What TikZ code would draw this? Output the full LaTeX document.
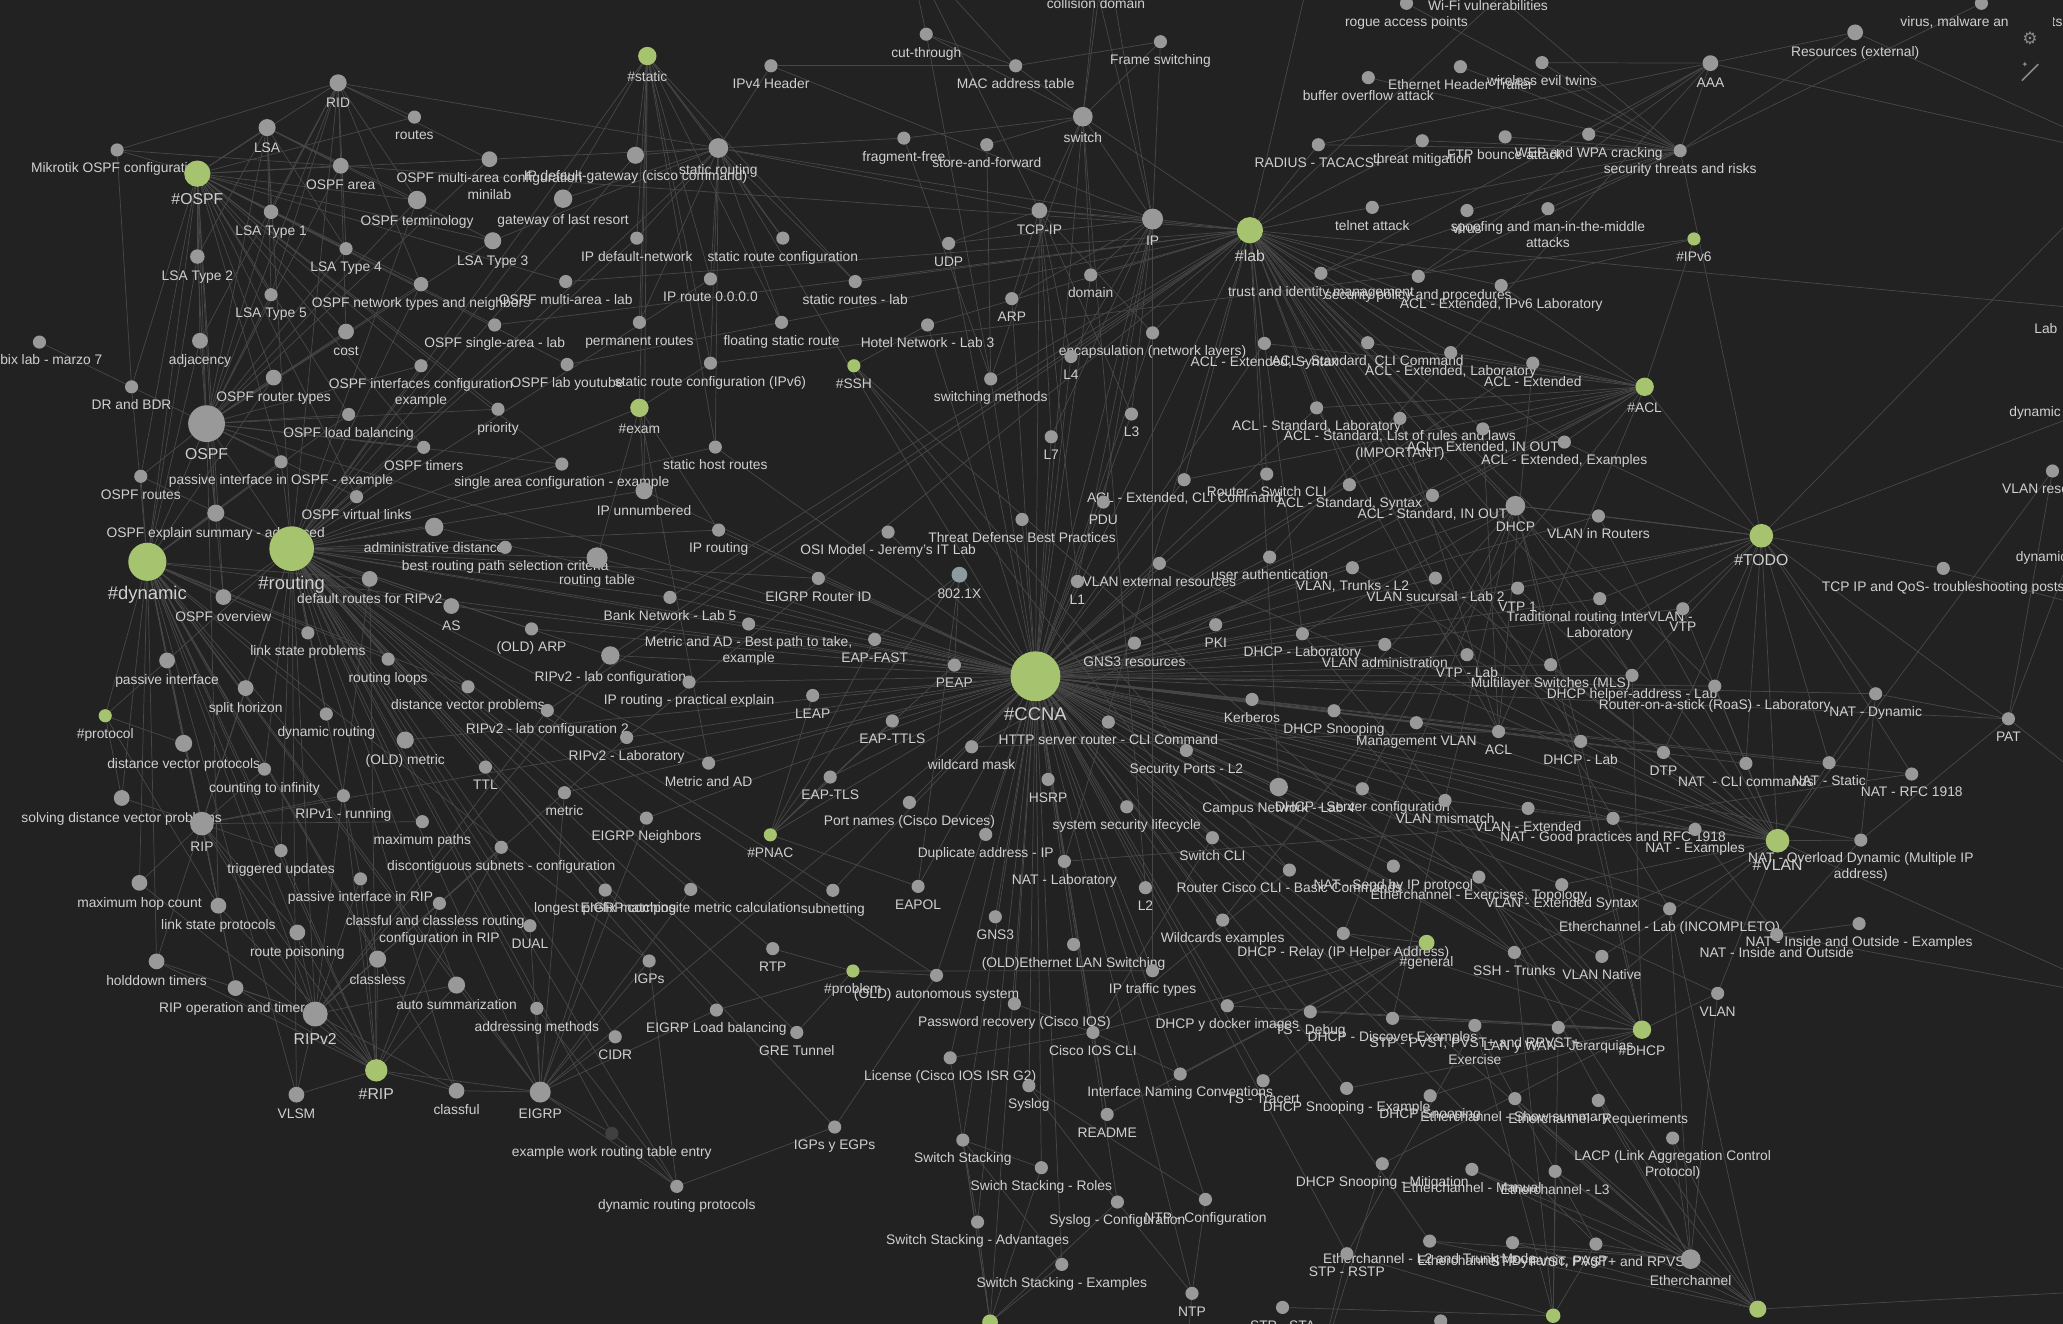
\documentclass[tikz,border=0pt]{standalone}
\usepackage{fontspec}
\setmainfont{Liberation Sans}
\newfontfamily\symfont{DejaVu Sans}
\usetikzlibrary{backgrounds}

\definecolor{bgc}{HTML}{222222}
\definecolor{ngray}{HTML}{999999}
\definecolor{ngreen}{HTML}{A6C36F}
\definecolor{nblue}{HTML}{8C9BA0}
\definecolor{ndark}{HTML}{404040}
\definecolor{tgray}{HTML}{D0D0D0}
\definecolor{egray}{HTML}{474747}
\definecolor{icong}{HTML}{8A8A8A}

\newcommand{\lbfont}{\fontsize{10.5}{12.5}\selectfont}
\newcommand{\midfont}{\fontsize{12}{14}\selectfont}
\newcommand{\bigfont}{\fontsize{14}{16}\selectfont}

\tikzset{
  nd/.style={circle,fill=ngray,inner sep=0pt,minimum size=#1},
  nd/.default=10pt,
  tg/.style={nd=#1,fill=ngreen},
  tg/.default=10pt,
  lbl/.style={text=tgray,font=\lbfont,align=center,inner sep=0pt,text height=8pt,text depth=2.5pt},
  lb/.style={label={[lbl]below:#1}},
  lbm/.style={label={[lbl,text height=,text depth=]below:#1}},
  mlb/.style={label={[lbl,font=\midfont,text height=9pt,text depth=2.5pt]below:#1}},
  blb/.style={label={[lbl,font=\bigfont,text height=10pt,text depth=3pt]below:#1}},
  link/.style={draw=egray,line width=0.55pt},
}

\begin{document}
\begin{tikzpicture}[x=1pt,y=-1pt,label distance=4pt]
  \useasboundingbox (0,0) rectangle (1568,1006);
  \begin{scope}[on background layer]
    \fill[bgc] (0,0) rectangle (1568,1006);
  \end{scope}

  % OSPF side
  \node[nd=13pt,lb=RID] (rid) at (257,63) {};
  \node[nd=13pt,lb=LSA] (lsa) at (203,97) {};
  \node[nd,lb=routes] (routes) at (315,89) {};
  \node[nd,lb=Mikrotik OSPF configuration] (mikro) at (89,114) {};
  \node[tg=20pt,mlb=\#OSPF] (tospf) at (150,132) {};
  \node[nd=12pt,lb=OSPF area] (ospfarea) at (259,126) {};
  \node[nd=12pt,lbm={OSPF multi-area configuration\\minilab}] (ospfmulti) at (372,121) {};
  \node[nd=11pt,lb=LSA Type 1] (lsa1) at (206,161) {};
  \node[nd=14pt,lb=OSPF terminology] (ospfterm) at (317,152) {};
  \node[nd=11pt,lb=LSA Type 2] (lsa2) at (150,195) {};
  \node[nd,lb=LSA Type 4] (lsa4) at (263,189) {};
  \node[nd=13pt,lb=LSA Type 3] (lsa3) at (374.5,183) {};
  \node[nd,lb=LSA Type 5] (lsa5) at (206,224) {};
  \node[nd=11pt,lb=OSPF network types and neighbors] (ospfnet) at (320,216) {};
  \node[nd=12pt,lb=cost] (cost) at (263,252) {};
  \node[nd=12pt,lb=adjacency] (adj) at (152,259) {};
  \node[nd,label={[lbl,xshift=9pt]below:bix lab - marzo 7}] (bix) at (30,260) {};
  \node[nd,lb=DR and BDR] (drbdr) at (100,294) {};
  \node[nd=12pt,lb=OSPF router types] (ortypes) at (208,287) {};
  \node[nd,lbm={OSPF interfaces configuration\\example}] (ospfintf) at (320,278) {};
  \node[nd=28pt,mlb=OSPF] (ospf) at (157,322) {};
  \node[nd,lb=OSPF load balancing] (ospflb) at (265,315) {};
  \node[nd,lb=priority] (priority) at (378.5,311) {};
  \node[nd,lb=OSPF lab youtube] (ospfyt) at (431,277) {};
  \node[nd,lb=OSPF single-area - lab] (ospfsingle) at (376,247) {};
  \node[nd,lb=OSPF multi-area - lab] (ospfmlab) at (430,214) {};
  \node[nd,lb=OSPF routes] (ospfroutes) at (107,362) {};
  \node[nd,lb=passive interface in OSPF - example] (passospf) at (213.6,351) {};
  \node[nd,lb=OSPF timers] (ospftimers) at (322,340) {};
  \node[nd,lb=single area configuration - example] (singlearea) at (427,352.7) {};
  \node[nd=13pt,lb=OSPF explain summary - advanced] (ospfsum) at (164,390) {};
  \node[nd,lb=OSPF virtual links] (ospfvl) at (271,377.5) {};

  % routing side
  \node[tg=29pt,blb=\#dynamic] (dynamic) at (112,427) {};
  \node[tg=34pt,blb=\#routing] (routing) at (221.7,417) {};
  \node[nd=14pt,lb=administrative distance] (admdist) at (330,400.5) {};
  \node[nd,lb=best routing path selection criteria] (bestpath) at (384,416) {};
  \node[nd=12pt,lb=OSPF overview] (ospfover) at (169.8,453.8) {};
  \node[nd=12pt,lb=default routes for RIPv2] (defrip) at (281,440) {};
  \node[nd=12pt,lb=AS] (as) at (343,460.6) {};
  \node[nd,lb=link state problems] (lsprob) at (234,481) {};
  \node[nd=12pt,lb=passive interface] (passive) at (127,502) {};
  \node[nd,lb=routing loops] (loops) at (295,501) {};
  \node[nd,lb=(OLD) ARP] (oldarp) at (404,478) {};
  \node[nd=12pt,lb=split horizon] (split) at (186.7,523) {};
  \node[nd,lb=distance vector problems] (dvprob) at (355.7,522) {};
  \node[tg,lb=\#protocol] (protocol) at (80,544) {};
  \node[nd,lb=dynamic routing] (dynrouting) at (248,542.7) {};
  \node[nd,lb=RIPv2 - lab configuration 2] (ripv2lab2) at (416,540) {};
  \node[nd=13pt,lb=(OLD) metric] (oldmetric) at (308,562.5) {};
  \node[nd=13pt,lb=distance vector protocols] (dvprot) at (139.6,565) {};
  \node[nd,lb=counting to infinity] (cinf) at (201,584.6) {};
  \node[nd,lb=TTL] (ttl) at (369,583) {};
  \node[nd=12pt,lb=solving distance vector problems] (solvdv) at (92.5,606.5) {};
  \node[nd,lb=RIPv1 - running] (ripv1) at (261,604.8) {};
  \node[nd=18pt,lb=RIP] (rip) at (153.5,626) {};
  \node[nd,lb=maximum paths] (maxpaths) at (321,624.5) {};
  \node[nd,lb=metric] (metric) at (429,602.5) {};
  \node[nd,lb=triggered updates] (trig) at (213.6,646.5) {};
  \node[nd,lb=discontiguous subnets - configuration] (discont) at (381,644) {};
  \node[nd=12pt,lb=maximum hop count] (maxhop) at (106,671) {};
  \node[nd=12pt,lb=link state protocols] (lsprot) at (166,688.4) {};
  \node[nd,lb=passive interface in RIP] (passrip) at (274,668) {};
  \node[nd,lbm={classful and classless routing -\\configuration in RIP}] (classfulrip) at (334,686.6) {};
  \node[nd=12pt,lb=route poisoning] (poison) at (226,708.7) {};
  \node[nd=12pt,lb=holddown timers] (holddown) at (119,730.7) {};
  \node[nd=13pt,lb=classless] (classless) at (287,729) {};
  \node[nd=12pt,lb=RIP operation and timers] (ripop) at (179,751) {};
  \node[nd=13pt,lb=auto summarization] (autosum) at (347,748.7) {};
  \node[nd=19pt,mlb=RIPv2] (ripv2) at (239.6,770.7) {};
  \node[nd,lb=DUAL] (dual) at (402.8,703.6) {};
  \node[nd,lb=longest prefix matching] (longest) at (460,676.5) {};
  \node[nd,lb=EIGRP composite metric calculation] (eigrpcomp) at (525,676) {};
  \node[nd,lb=IGPs] (igps) at (493.4,730.4) {};
  \node[nd,lb=addressing methods] (addr) at (408,766.4) {};
  \node[nd,lb=CIDR] (cidr) at (467.6,788) {};
  \node[tg=17pt,mlb=\#RIP] (trip) at (286,813.5) {};
  \node[nd=12pt,lb=VLSM] (vlsm) at (225.3,832) {};
  \node[nd=12pt,lb=classful] (classful) at (347,829) {};
  \node[nd=16pt,lb=EIGRP] (eigrp) at (410.6,830) {};
  \node[nd,fill=ndark,lb=example work routing table entry] (example) at (465,861.4) {};
  \node[nd,lb=dynamic routing protocols] (dynprot) at (514.4,901.7) {};
  \node[nd,lb=EIGRP Load balancing] (eigrplb) at (544.5,767.7) {};
  \node[nd,lb=IGPs y EGPs] (igpegp) at (634.4,856.6) {};
  \node[nd,lb=GRE Tunnel] (gre) at (605.6,784.7) {};
  \node[nd,lb=RTP] (rtp) at (587.3,721) {};
  \node[tg,lb=\#problem] (problem) at (648.3,738) {};
  \node[nd,lb=subnetting] (subnet) at (633,676.7) {};
  \node[nd,lb=EAPOL] (eapol) at (697.8,673.7) {};
  \node[nd,lb=(OLD) autonomous system] (oldas) at (711.8,741.3) {};

  % static and middle
  \node[tg=14pt,lb=\#static] (tstatic) at (492,42.6) {};
  \node[nd,lb=IPv4 Header] (ipv4h) at (586,50) {};
  \node[nd,lb=cut-through] (cut) at (704,26) {};
  \node[nd,lb=MAC address table] (mactable) at (772,50) {};
  \node[nd=15pt,lb=static routing] (statrouting) at (546,112.5) {};
  \node[nd=13pt,lb=IP default-gateway (cisco command)] (defgw) at (483,118) {};
  \node[nd=14pt,lb=gateway of last resort] (lastresort) at (428,151) {};
  \node[nd,lb=fragment-free] (fragfree) at (687,105) {};
  \node[nd,lb=store-and-forward] (storefwd) at (750,110) {};
  \node[nd,lb=IP default-network] (defnet) at (484,181) {};
  \node[nd,lb=static route configuration] (statconf) at (595,181) {};
  \node[nd,lb=UDP] (udp) at (721,185) {};
  \node[nd,lb=IP route 0.0.0.0] (iproute0) at (540,212) {};
  \node[nd,lb=static routes - lab] (statlab) at (650,214) {};
  \node[nd,lb=ARP] (arp) at (769,227) {};
  \node[nd,lb=permanent routes] (permanent) at (486,245) {};
  \node[nd,lb=floating static route] (floating) at (594,245) {};
  \node[nd,lb=Hotel Network - Lab 3] (hotel) at (705,247) {};
  \node[nd,lb=static route configuration (IPv6)] (statv6) at (540,276) {};
  \node[tg,lb=\#SSH] (ssh) at (649,278) {};
  \node[nd,lb=switching methods] (swmethods) at (753,288) {};
  \node[tg=14pt,lb=\#exam] (exam) at (486,310) {};
  \node[nd,lb=static host routes] (hostroutes) at (543.7,339.8) {};
  \node[nd=13pt,lb=IP unnumbered] (ipunnum) at (489.5,373) {};
  \node[nd,lb=IP routing] (iprouting) at (546.2,402.9) {};
  \node[nd,lb=OSI Model - Jeremy's IT Lab] (osi) at (675,404.4) {};
  \node[nd,lb=Threat Defense Best Practices] (threat) at (776.8,394.8) {};
  \node[nd=16pt,lb=routing table] (rtable) at (453.8,424) {};
  \node[nd,lb=EIGRP Router ID] (eigrprid) at (622,439.6) {};
  \node[nd=12pt,fill=nblue,lb=802.1X] (dot1x) at (729.2,436.8) {};
  \node[nd,lb=Bank Network - Lab 5] (bank) at (509.2,454) {};
  \node[nd,lbm={Metric and AD - Best path to take,\\example}] (metricadb) at (569,474.3) {};
  \node[nd,lb=EAP-FAST] (eapfast) at (664.8,486) {};
  \node[nd=14pt,lb=RIPv2 - lab configuration] (ripv2lab) at (463.9,498.2) {};
  \node[nd,lb=PEAP] (peap) at (725.4,505.5) {};
  \node[tg=38pt,blb=\#CCNA] (ccna) at (787,514) {};
  \node[nd,lb=IP routing - practical explain] (ippract) at (523.7,518.4) {};
  \node[nd,lb=LEAP] (leap) at (617.7,528.6) {};
  \node[nd,lb=RIPv2 - Laboratory] (ripv2labo) at (476.3,560.5) {};
  \node[nd,lb=EAP-TTLS] (eapttls) at (678.2,548) {};
  \node[nd,lb=wildcard mask] (wildcard) at (738.5,567.6) {};
  \node[nd,lb=Metric and AD] (metricad) at (538.6,580) {};
  \node[nd,lb=EAP-TLS] (eaptls) at (631,590.6) {};
  \node[nd,lb=Port names (Cisco Devices)] (portnames) at (691.2,609.9) {};
  \node[nd,lb=EIGRP Neighbors] (eigrpnb) at (491.3,621.8) {};
  \node[tg,lb=\#PNAC] (pnac) at (585.5,634.5) {};
  \node[nd,lb=Duplicate address - IP] (dupaddr) at (749.2,634.2) {};

  % top right
  \node[nd,lb=collision domain] (colldom) at (833,-11) {};
  \node[nd,lb=Frame switching] (frame) at (882,31.7) {};
  \node[nd=15pt,lb=switch] (switch) at (823,88.7) {};
  \node[nd,lb=rogue access points] (rogue) at (1069,2.5) {};
  \node[nd,lb=Wi-Fi vulnerabilities] (wifi) at (1131,-9.5) {};
  \node[nd,lb=buffer overflow attack] (buffer) at (1040,59) {};
  \node[nd,lb=Ethernet Header-Trailer] (ethhdr) at (1110,50.7) {};
  \node[nd,lb=wireless evil twins] (evil) at (1172,47.6) {};
  \node[nd=12pt,lb=AAA] (aaa) at (1300,48) {};
  \node[nd=12pt,lb=Resources (external)] (resources) at (1410,24.6) {};
  \node[nd,lb={virus, malware and threats}] (virusmal) at (1506,2.5) {};
  \node[nd,lb=RADIUS - TACACS+] (radius) at (1002,110) {};
  \node[nd,lb=threat mitigation] (threatmit) at (1081,107) {};
  \node[nd,lb=FTP bounce attack] (ftp) at (1144,104) {};
  \node[nd,lb=WEP and WPA cracking] (wep) at (1207.5,102) {};
  \node[nd,lb=security threats and risks] (secthreats) at (1277,114.5) {};
  \node[nd=16pt,lb=IP] (ip) at (876,166.5) {};
  \node[nd=12pt,lb=TCP-IP] (tcpip) at (790,160) {};
  \node[tg=20pt,mlb=\#lab] (lab) at (950,175) {};
  \node[nd,lb=telnet attack] (telnet) at (1043,157.6) {};
  \node[nd,lb=virus] (virus) at (1115,160) {};
  \node[nd,lbm={spoofing and man-in-the-middle\\attacks}] (spoof) at (1176.5,158.6) {};
  \node[tg,lb=\#IPv6] (ipv6) at (1287.5,181.6) {};
  \node[nd,lb=domain] (domain) at (829,209) {};
  \node[nd,lb=trust and identity management] (trust) at (1004,207.7) {};
  \node[nd,lb=security policy and procedures] (secpol) at (1078,210) {};
  \node[nd,lb={ACL - Extended, IPv6 Laboratory}] (aclv6) at (1141,217) {};
  \node[nd,lb=encapsulation (network layers)] (encap) at (876,253) {};
  \node[nd,lb=L4] (l4) at (814,271) {};
  \node[nd,lb={ACL - Extended, Syntax}] (aclextsyn) at (961,261) {};
  \node[nd,lb={ACL - Standard, CLI Command}] (aclstdcli) at (1039.5,260.5) {};
  \node[nd,lb={ACL - Extended, Laboratory}] (aclextlab) at (1102.6,268) {};
  \node[nd,lb=ACL - Extended] (aclext) at (1165,276) {};
  \node[tg=14pt,lb=\#ACL] (tacl) at (1250,294) {};
  \node[nd,lb=L3] (l3) at (860,314.7) {};
  \node[nd,lb=L7] (l7) at (799,332) {};
  \node[nd,lb={ACL - Standard, Laboratory}] (aclstdlab) at (1000.7,310) {};
  \node[nd,lbm={ACL - Standard, List of rules and laws\\(IMPORTANT)}] (aclstdlist) at (1064,318) {};
  \node[nd,lb={ACL - Extended, IN OUT}] (aclextio) at (1127,326) {};
  \node[nd,lb={ACL - Extended, Examples}] (aclextex) at (1189,336) {};
  \node[nd,lb={ACL - Extended, CLI Command}] (aclextcli) at (900,364.6) {};
  \node[nd,lb=Router - Switch CLI] (rsw) at (962.8,360.3) {};
  \node[nd,lb={ACL - Standard,  Syntax}] (aclstdsyn) at (1025.6,368.4) {};
  \node[nd,lb={ACL - Standard, IN OUT}] (aclstdio) at (1088.7,376.5) {};
  \node[nd=15pt,lb=DHCP] (dhcp) at (1151.8,384.4) {};
  \node[nd,lb=PDU] (pdu) at (838.6,381.6) {};
  \node[nd,lb=VLAN in Routers] (vlanrt) at (1214.9,392.2) {};
  \node[tg=18pt,mlb=\#TODO] (todo) at (1338.7,407.2) {};
  \node[nd,lb=TCP IP and QoS- troubleshooting posts] (tcpqos) at (1477,432) {};
  \node[nd,lb=VLAN resources] (vlanres) at (1560,358) {};

  % centre right
  \node[nd,lb=VLAN external resources] (vlanextres) at (881.2,428.2) {};
  \node[nd,lb=user authentication] (userauth) at (965,423.4) {};
  \node[nd,lb=L1] (l1) at (818.9,441.9) {};
  \node[nd,lb={VLAN, Trunks - L2}] (vlantrunk) at (1027.9,431.5) {};
  \node[nd,lb=VLAN sucursal  - Lab 2] (vlansuc) at (1091,439.4) {};
  \node[nd,lb=VTP 1] (vtp1) at (1153.5,447) {};
  \node[nd,lbm={Traditional routing InterVLAN -\\Laboratory}] (tradinter) at (1215.9,455) {};
  \node[nd,lb=VTP] (vtp) at (1279,462.7) {};
  \node[nd,lb=PKI] (pki) at (924,474.8) {};
  \node[nd,lb=GNS3 resources] (gns3res) at (862.2,488.8) {};
  \node[nd,lb=DHCP - Laboratory] (dhcplabo) at (989.9,481.7) {};
  \node[nd,lb=VLAN administration] (vlanadm) at (1052.5,489.8) {};
  \node[nd,lb=VTP - Lab] (vtplab) at (1115,497.6) {};
  \node[nd,lb=Multilayer Switches (MLS)] (mls) at (1178.6,505.2) {};
  \node[nd,lb=DHCP helper-address - Lab] (helper) at (1240.4,513.3) {};
  \node[nd,lb=Router-on-a-stick (RoaS) - Laboratory] (roas) at (1303.3,521.5) {};
  \node[nd,lb=NAT - Dynamic] (natdyn) at (1425.6,527.3) {};
  \node[nd,lb=PAT] (pat) at (1526.5,546.3) {};
  \node[nd,lb=Kerberos] (kerberos) at (951.6,531.6) {};
  \node[nd,lb=DHCP Snooping] (dhcpsnoop) at (1013.9,540.2) {};
  \node[nd,lb=Management VLAN] (mgmtvlan) at (1076.5,549.3) {};
  \node[nd,lb=ACL] (acl) at (1139,556) {};
  \node[nd,lb=HTTP server router  - CLI Command] (httpsrv) at (842.4,548.8) {};
  \node[nd,lb=DHCP - Lab] (dhcplab) at (1201.4,563.5) {};
  \node[nd,lb=DTP] (dtp) at (1264.3,571.9) {};
  \node[nd,lb=NAT ~- CLI commands] (natcli) at (1327,580.2) {};
  \node[nd,lb=NAT - Static] (natstatic) at (1390.2,579.7) {};
  \node[nd,lb=NAT - RFC 1918] (natrfc) at (1453,588.3) {};
  \node[nd,lb=Security Ports - L2] (secports) at (901.7,570.4) {};
  \node[nd,lb=HSRP] (hsrp) at (796.6,592.4) {};
  \node[nd=14pt,lb=Campus Network - Lab 4] (campus) at (971.9,598.2) {};
  \node[nd,lb=DHCP - Server configuration] (dhcpsrv) at (1035.5,599.5) {};
  \node[nd,lb=VLAN mismatch] (vlanmis) at (1098.3,608.4) {};
  \node[nd,lb=VLAN - Extended] (vlanextd) at (1161.4,614.4) {};
  \node[nd,lb=NAT - Good practices and RFC 1918] (natgood) at (1226,622) {};
  \node[nd,lb=NAT - Examples] (natex) at (1288.3,630.4) {};
  \node[tg=18pt,mlb=\#VLAN] (tvlan) at (1351,639) {};
  \node[nd,lbm={NAT - Overload Dynamic (Multiple IP\\address)}] (natover) at (1414.3,638.5) {};
  \node[nd,lb=system security lifecycle] (syssec) at (856.4,613.2) {};
  \node[nd,lb=Switch CLI] (switchcli) at (921.5,636.7) {};
  \node[nd,lb=NAT - Laboratory] (natlab) at (809,654.7) {};
  \node[nd,lb=Router Cisco CLI - Basic Commands] (rcli) at (980,661.3) {};
  \node[nd,lb=NAT - Send by IP protocol] (natsend) at (1059,658.3) {};
  \node[nd,lb={Etherchannel - Exercises, Topology}] (ethex) at (1124,666.6) {};
  \node[nd,lb=VLAN - Extended Syntax] (vlanextsyn) at (1187,672.4) {};
  \node[nd,lb=Etherchannel - Lab (INCOMPLETO)] (ethlab) at (1269,690.7) {};
  \node[nd,lb=NAT - Inside and Outside] (natio) at (1350.4,710.4) {};
  \node[nd,lb=NAT - Inside and Outside - Examples] (natioex) at (1413,702) {};

  % bottom
  \node[nd,lb=L2] (l2) at (870.6,674.7) {};
  \node[nd,lb=GNS3] (gns3) at (756.5,696.8) {};
  \node[nd,lb=Wildcards examples] (wildex) at (929.3,699.3) {};
  \node[nd,lb=(OLD)Ethernet LAN Switching] (oldeth) at (816,717.8) {};
  \node[nd,lb=IP traffic types] (iptraffic) at (876,737.8) {};
  \node[nd,lb=DHCP - Relay (IP Helper Address)] (relay) at (1021,709.4) {};
  \node[tg=12pt,lb=\#general] (general) at (1084.3,716.5) {};
  \node[nd,lb=SSH - Trunks] (sshtrunk) at (1151,723.9) {};
  \node[nd,lb=VLAN Native] (vlannative) at (1217.5,726.9) {};
  \node[nd,lb=VLAN] (vlan) at (1305.5,755) {};
  \node[nd,lb=Password recovery (Cisco IOS)] (pwrec) at (771,762.9) {};
  \node[nd,lb=DHCP y docker images] (docker) at (932.8,764.4) {};
  \node[nd,lb=TS - Debug] (tsdebug) at (995.9,769) {};
  \node[nd,lb=DHCP - Discover Examples] (discover) at (1058.4,774) {};
  \node[nd,lbm={STP - PVST, PVST+ and RPVST+\\Exercise}] (stpex) at (1121,779.4) {};
  \node[nd,lb=LAN y WAN - Jerarquias] (lanwan) at (1184.4,780.9) {};
  \node[tg=14pt,lb=\#DHCP] (tdhcp) at (1248,782.6) {};
  \node[nd,lb=Cisco IOS CLI] (ciscocli) at (830.7,784.7) {};
  \node[nd,lb=License (Cisco IOS ISR G2)] (license) at (722.2,804) {};
  \node[nd,lb=Syslog] (syslog) at (782,825.2) {};
  \node[nd,lb=Interface Naming Conventions] (ifnames) at (897,816.3) {};
  \node[nd,lb=TS - Tracert] (tracert) at (960,821.4) {};
  \node[nd,lb=DHCP Snooping - Example] (snoopex) at (1023.5,827.2) {};
  \node[nd,lb=DHCP Snooping] (snooptwo) at (1087,832.8) {};
  \node[nd,lb=Etherchannel - Show summary] (ethshow) at (1151.4,835) {};
  \node[nd,lb=Etherchannel - Requeriments] (ethreq) at (1214.8,836.4) {};
  \node[nd,lb=README] (readme) at (841.5,847) {};
  \node[nd,lbm={LACP (Link Aggregation Control\\Protocol)}] (lacp) at (1271.3,865) {};
  \node[nd,lb=Switch Stacking] (stack) at (731.8,866.5) {};
  \node[nd,lb=Swich Stacking - Roles] (stackroles) at (791.5,887.5) {};
  \node[nd,lb=DHCP Snooping - Mitigation] (snoopmit) at (1050.6,884.5) {};
  \node[nd,lb=Etherchannel - Manual] (ethman) at (1118.7,888.8) {};
  \node[nd,lb=Etherchannel - L3] (ethl3) at (1182,890.3) {};
  \node[nd,lb=Syslog - Configuration] (syslogconf) at (849.3,913.6) {};
  \node[nd,lb=NTP - Configuration] (ntpconf) at (916.2,911.6) {};
  \node[nd,lb=Switch Stacking - Advantages] (stackadv) at (743,928.8) {};
  \node[nd,lb=Etherchannel - L2 and Trunk Mode] (ethl2) at (1086.6,943.3) {};
  \node[nd,lb={Etherchannel - Dynamic, PAgP}] (ethdyn) at (1149.6,944.5) {};
  \node[nd,lb={STP - PVST, PVST+ and RPVST+}] (stppvst) at (1213,945.5) {};
  \node[nd,lb=STP - RSTP] (rstp) at (1023.7,952.9) {};
  \node[nd=15pt,lb=Etherchannel] (eth) at (1285,957) {};
  \node[nd,lb=Switch Stacking - Examples] (stackex) at (807,961) {};
  \node[nd,lb=NTP] (ntp) at (906,983) {};
  \node[nd,lb=STP - STA] (stpsta) at (974.8,993.7) {};
  \node[nd] (bnode) at (1095,1004) {};
  \node[tg=12pt] (g1) at (752.5,1005) {};
  \node[tg=11pt] (g2) at (1180.5,1000) {};
  \node[tg=13pt] (g3) at (1336,995) {};

  % texts of nodes past the right edge
  \node[lbl,anchor=west] (labtxt) at (1546,251) {Lab};
  \node[lbl,anchor=west] (dyntxt) at (1527,314) {dynamic};
  \node[lbl,anchor=west] (dyntxtb) at (1532,424) {dynamic};

  % points past the edges
  \coordinate (o1) at (690,-40);
  \coordinate (o2) at (840,-40);
  \coordinate (o3) at (1000,-40);
  \coordinate (o4) at (1180,-40);
  \coordinate (o5) at (1620,120);
  \coordinate (o6) at (1620,300);
  \coordinate (o7) at (1620,470);
  \coordinate (o8) at (1620,620);
  \coordinate (o9) at (1620,760);
  \coordinate (o10) at (760,1050);
  \coordinate (o11) at (900,1050);
  \coordinate (o12) at (1000,1050);
  \coordinate (o13) at (1160,1050);
  \coordinate (o15) at (1620,980);
  \coordinate (o16) at (1600,236);

  \begin{scope}[on background layer]
    \foreach \t in {eapfast,peap,leap,eapttls,eaptls,wildcard,portnames,dupaddr,hsrp,httpsrv,gns3res,pki,kerberos,secports,syssec,switchcli,natlab,l1,vlanextres,userauth,dot1x,threat,osi,eigrprid,iprouting,bank,metricadb,ippract,ripv2lab,ripv2labo,metricad,eigrpnb,pnac,oldarp,rtable,ipunnum,admdist,routing,dynamic,ospf,rip,eigrp,dhcpsnoop,mgmtvlan,acl,dhcplabo,vlanadm,vtplab,mls,campus,dhcpsrv,vlanmis,vlanextd,natgood,natex,tvlan,natcli,natstatic,natrfc,natdyn,pat,vlanrt,todo,dhcp,aclextcli,rsw,aclstdsyn,aclstdio,pdu,l3,l4,l7,encap,ip,switch,tcpip,udp,arp,domain,lab,aclstdlab,aclextsyn,l2,gns3,wildex,oldeth,iptraffic,relay,rcli,natsend,pwrec,ciscocli,license,syslog,ifnames,readme,stack,stackroles,syslogconf,ntpconf,stackadv,stackex,ntp,eapol,subnet,oldas,vlantrunk,vlansuc,vtp1,vtp,tradinter,helper,roas,dhcplab,dtp,ethex,vlanextsyn,general,tdhcp,eth,g1,hostroutes,statrouting,metric,oldmetric,as,swmethods,hotel,tacl,aclext,natover,natio,vlan,sshtrunk,vlannative,ethlab,tsdebug,discover,docker,tracert,stppvst,rstp,ethl2,snoopex}
      \draw[link] (ccna) -- (\t);
    \foreach \t in {ip,tcpip,aclextsyn,aclstdcli,aclextlab,aclext,aclv6,aclstdlab,aclstdlist,aclextio,aclextcli,rsw,aclstdsyn,aclstdio,encap,l4,domain,trust,radius,hotel,bank,vlansuc,campus,statlab,ospfmlab,ospfsingle,ospfyt,ripv2lab,ripv2lab2,ripv2labo,dhcplabo,dhcplab,vtplab,helper,roas,tradinter,natlab,ethlab,mikro,swmethods,switch,secpol,telnet,threatmit,o3,o4,tacl,aclextex,dhcp,o16}
      \draw[link] (lab) -- (\t);
    \foreach \t in {statrouting,lastresort,admdist,bestpath,rtable,metric,oldmetric,as,iprouting,ippract,dynrouting,loops,dvprob,defrip,lsprob,ospfover,passive,split,cinf,ripv1,maxpaths,trig,discont,ttl,oldarp,bank,metricad,metricadb,eigrprid,eigrpnb,ospf,rip,ripv2,eigrp,dual,longest,eigrpcomp,igps,addr,cidr,classful,classless,autosum,vlsm,example,dynprot,eigrplb,igpegp,gre,rtp,subnet,oldas,ipunnum,hostroutes,singlearea,ospfvl,ospftimers,passospf,ospfroutes,ospfsum,defgw,defnet,iproute0,tstatic,exam,ospfterm,ospfnet,ospfintf,rid,lsa}
      \draw[link] (routing) -- (\t);
    \foreach \t in {ospf,rip,ripv2,eigrp,dvprot,lsprot,dynrouting,passive,split,solvdv,maxhop,holddown,poison,trig,ripop,cinf,ospfsum,ospfroutes,ospfover,protocol,drbdr,adj,lsa2,ortypes,lsprob,loops,dvprob,ospflb,passospf,trip,vlsm,classful,classless,autosum,ripv1,defrip,tospf,igps}
      \draw[link] (dynamic) -- (\t);
    \foreach \t in {rid,lsa,routes,mikro,ospfarea,ospfmulti,lsa1,ospfterm,lsa2,lsa4,lsa3,lsa5,ospfnet,cost,adj,drbdr,ortypes,ospfintf,ospf,ospflb,priority,ospfyt,ospfsingle,ospfmlab,ospfroutes,passospf,ospftimers,singlearea,ospfsum,ospfvl,ospfover}
      \draw[link] (tospf) -- (\t);
    \foreach \t in {rid,lsa,lsa1,lsa2,lsa3,lsa4,lsa5,ospfarea,ospfterm,cost,adj,drbdr,ortypes,ospfintf,ospflb,priority,ospfroutes,passospf,ospftimers,ospfsum,ospfvl,ospfover,lsprot,ospfnet,ospfmulti,singlearea}
      \draw[link] (ospf) -- (\t);
    \foreach \t in {routes,mikro,ospfmulti,lsa1,lsa5,cost,ospfterm,ospfnet,lsa4,statrouting,adj}
      \draw[link] (rid) -- (\t);
    \foreach \t in {lsa1,lsa2,lsa3,lsa4,lsa5,ospfterm,ospfarea}
      \draw[link] (lsa) -- (\t);
    \foreach \t in {statrouting,defgw,lastresort,defnet,statconf,iproute0,statlab,permanent,floating,statv6,hostroutes,exam,ipunnum}
      \draw[link] (tstatic) -- (\t);
    \foreach \t in {defgw,lastresort,defnet,statconf,iproute0,statlab,permanent,floating,statv6,hostroutes,ip,tcpip,ipv4h,fragfree,lsa3,ospfmulti}
      \draw[link] (statrouting) -- (\t);
    \foreach \t in {ripv2,rip,vlsm,classful,classless,autosum,eigrp,ripop,holddown,poison,trig,maxhop,passrip,classfulrip,discont,ripv1,defrip,lsprot}
      \draw[link] (trip) -- (\t);
    \foreach \t in {vlsm,classful,classless,autosum,passrip,classfulrip,ripop,poison,holddown,discont,defrip,ripv2lab,ripv2lab2,ripv2labo,rip}
      \draw[link] (ripv2) -- (\t);
    \foreach \t in {maxhop,holddown,poison,trig,split,cinf,solvdv,dvprot,ripop,ripv1,lsprot,maxpaths}
      \draw[link] (rip) -- (\t);
    \foreach \t in {dual,eigrpcomp,eigrplb,eigrpnb,classful,autosum,addr,cidr,igps,example,dynprot,metric,longest}
      \draw[link] (eigrp) -- (\t);
    \foreach \t in {igps,igpegp,example,addr}
      \draw[link] (dynprot) -- (\t);
    \foreach \t in {cut,mactable,frame,fragfree,storefwd,swmethods,colldom,tcpip,ip,l2,domain,o2}
      \draw[link] (switch) -- (\t);
    \foreach \t in {cut,fragfree,storefwd}
      \draw[link] (swmethods) -- (\t);
    \foreach \t in {cut,frame,ipv4h,o1}
      \draw[link] (mactable) -- (\t);
    \foreach \t in {tcpip,udp,arp,domain,l3,l4,l7,encap,ipv4h,pdu,l1,iptraffic,frame,colldom,o2}
      \draw[link] (ip) -- (\t);
    \foreach \t in {udp,arp,l4,l3,encap,l7,l1,o1}
      \draw[link] (tcpip) -- (\t);
    \foreach \t in {aaa,virus,buffer,telnet,spoof,ftp,wep,rogue,evil,wifi,threatmit,resources,virusmal,secpol,trust,radius,ethhdr}
      \draw[link] (secthreats) -- (\t);
    \foreach \t in {radius,trust,secpol,userauth,evil,resources,wep,o5}
      \draw[link] (aaa) -- (\t);
    \foreach \t in {aclext,aclextlab,aclextsyn,aclstdcli,aclstdlab,aclstdlist,aclextio,aclextex,aclv6,aclextcli,aclstdsyn,aclstdio,acl,wildcard,wildex,ipv6,todo}
      \draw[link] (tacl) -- (\t);
    \foreach \t in {aclext,aclstdlab,aclstdlist,aclextio,wildcard}
      \draw[link] (acl) -- (\t);
    \foreach \t in {dhcp,dhcplabo,dhcplab,dhcpsnoop,snooptwo,snoopex,snoopmit,relay,discover,docker,helper,dhcpsrv,tsdebug,lanwan,vlan}
      \draw[link] (tdhcp) -- (\t);
    \foreach \t in {dhcplabo,dhcplab,dhcpsnoop,helper,dhcpsrv,relay,discover,todo,vlanrt}
      \draw[link] (dhcp) -- (\t);
    \foreach \t in {vlan,vlanrt,vlantrunk,vlansuc,vlanadm,mgmtvlan,vlanmis,vlanextd,vlanextsyn,vlannative,sshtrunk,vtp,vtp1,vtplab,dtp,roas,tradinter,mls,natover,natex,natcli,natstatic,vlanextres,todo,lanwan,vlanres,o9}
      \draw[link] (tvlan) -- (\t);
    \foreach \t in {vlanrt,vtp,natdyn,tcpqos,dtp,natcli,natstatic,natrfc,roas,mls,tradinter,helper,dhcp,aclextex,vtp1,o5,o6,pat,secthreats}
      \draw[link] (todo) -- (\t);
    \foreach \t in {pat,natstatic,natover}
      \draw[link] (natdyn) -- (\t);
    \foreach \t in {natover,o6,o8,vlanres}
      \draw[link] (pat) -- (\t);
    \foreach \t in {natioex,natex,natover,o9}
      \draw[link] (natio) -- (\t);
    \foreach \t in {natrfc,natlab}
      \draw[link] (natgood) -- (\t);
    \foreach \t in {ethex,ethlab,ethshow,ethreq,lacp,ethman,ethl3,ethl2,ethdyn,stppvst,vlan}
      \draw[link] (eth) -- (\t);
    \foreach \t in {eth,lacp,ethreq,ethlab,ethshow,ethman,ethl3,ethl2,ethdyn,ethex,o15}
      \draw[link] (g3) -- (\t);
    \foreach \t in {stppvst,rstp,stpex,stpsta,ethl3,sshtrunk,lanwan,o13}
      \draw[link] (g2) -- (\t);
    \foreach \t in {stack,stackroles,stackadv,stackex,syslogconf,license,o10}
      \draw[link] (g1) -- (\t);
    \foreach \t in {stackroles,stackadv,stackex}
      \draw[link] (stack) -- (\t);
    \foreach \t in {syslogconf,ntpconf}
      \draw[link] (syslog) -- (\t);
    \foreach \t in {ntpconf,syslogconf,o11}
      \draw[link] (ntp) -- (\t);
    \foreach \t in {rcli,switchcli,pwrec,license,ifnames,readme}
      \draw[link] (ciscocli) -- (\t);
    \foreach \t in {eapfast,peap,leap,eapttls,eaptls,eapol,dot1x}
      \draw[link] (pnac) -- (\t);
    \foreach \t in {eapol,eapfast,peap}
      \draw[link] (dot1x) -- (\t);
    \foreach \t in {rcli,hotel,sshtrunk,switchcli}
      \draw[link] (ssh) -- (\t);
    \foreach \t in {iprouting,rtable,metricad,statv6,ipunnum}
      \draw[link] (exam) -- (\t);
    \foreach \t in {oldas,iptraffic,eigrplb,gre,rtp}
      \draw[link] (problem) -- (\t);
    \foreach \t in {dvprot,lsprot,solvdv,passive}
      \draw[link] (protocol) -- (\t);
    \foreach \t in {relay,readme,ifnames,docker,tracert,ciscocli,tsdebug}
      \draw[link] (general) -- (\t);
    \foreach \t in {aclv6,statv6}
      \draw[link] (ipv6) -- (\t);
    \draw[link] (mikro) -- (drbdr);
    \draw[link] (bix) -- (drbdr);
    \draw[link] (stpex) -- (stppvst);
    \draw[link] (stpex) -- (rstp);
    \draw[link] (igpegp) -- (oldas);
    \draw[link] (rogue) -- (o3);
    \draw[link] (wifi) -- (o4);
    \draw[link] (colldom) -- (o2);
    \draw[link] (cut) -- (o1);
    \draw[link] (resources) -- (o5);
    \draw[link] (tcpqos) -- (o7);
    \draw[link] (snoopmit) -- (o12);
    \draw[link] (rstp) -- (o12);
  \end{scope}

  % corner buttons
  \fill[bgc] (1527,0) rectangle (1560,68);
  \node[text=icong,font=\symfont\fontsize{13}{13}\selectfont] (gear) at (1543,29) {⚙};
  \coordinate (wanda) at (1537,61);
  \coordinate (wandb) at (1549,49);
  \draw[icong,line width=1.2pt,line cap=round] (wanda) -- (wandb);
  \node[text=icong,font=\symfont\fontsize{6}{6}\selectfont] (spark) at (1539,49) {✦};
\end{tikzpicture}
\end{document}
